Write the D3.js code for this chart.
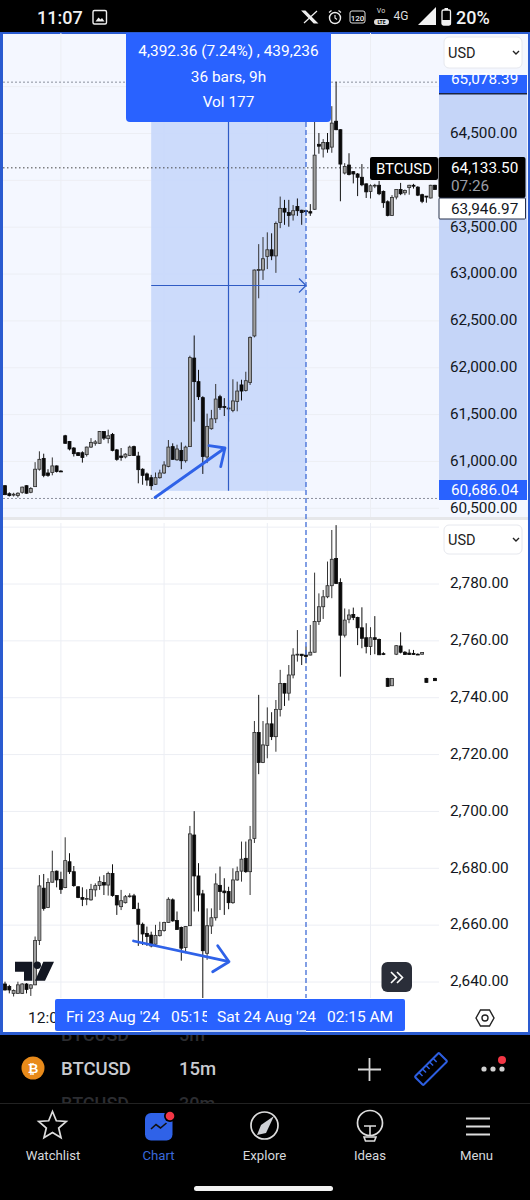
<!DOCTYPE html>
<html><head><meta charset="utf-8">
<script src="https://cdn.jsdelivr.net/npm/d3@7/dist/d3.min.js"></script>
<style>
html,body{margin:0;padding:0;background:#000;overflow:hidden}
svg{display:block}
text{font-family:Roboto,sans-serif}
</style></head><body><div id="chart"></div>
<script>
// ---------- data, [open, high, low, close] ----------
const btcCandlesRaw = [
[60740,60745,60640,60645],[60655,60670,60625,60635],[60640,60665,60625,60650],[60635,60670,60615,60660],
[60670,60730,60655,60725],[60740,60745,60655,60660],[60670,60725,60660,60710],[60730,60990,60730,60915],
[60915,61105,60900,61020],[61030,61080,60830,60850],[60875,60915,60835,60850],[60880,61040,60850,60950],
[60950,60955,60880,60890],[60895,60905,60885,60890],[61270,61280,61185,61190],[61210,61215,61115,61130],
[61140,61150,61050,61080],[61090,61095,61055,61060],[61090,61105,60985,61040],[61070,61155,61050,61150],
[61150,61245,61140,61200],[61190,61225,61165,61205],[61190,61320,61185,61315],[61315,61320,61225,61245],
[61240,61335,61190,61270],[61285,61300,61105,61115],[61120,61130,61005,61020],[61055,61140,61005,61040],
[61045,61085,61030,61075],[61060,61165,61055,61150],[61155,61165,61055,61060],[61055,61100,60765,60910],
[60915,60925,60750,60850],[60865,60880,60740,60800],[60825,60855,60695,60740],[60755,60880,60750,60825],
[60825,60910,60815,60875],[60875,61000,60865,60960],[60945,61225,60935,61150],[61155,61190,61015,61020],
[61015,61175,61005,61130],[61115,61200,60915,61005],[61005,61165,60985,61150],[61155,62120,61155,62100],
[62095,62335,61420,61845],[61845,61970,61650,61685],[61675,61690,60865,61050],[61045,61505,60980,61370],
[61345,61545,61335,61450],[61450,61820,61405,61660],[61685,61705,61545,61570],[61580,61670,61480,61570],
[61555,61650,61420,61565],[61540,61870,61520,61640],[61635,61845,61530,61745],[61810,61865,61645,61745],
[61750,61950,61740,61855],[61835,62325,61810,62315],[62330,63035,62315,63030],[63025,63305,62730,63035],
[63030,63380,62925,63150],[63175,63430,63040,63245],[63245,63420,63135,63180],[63180,63545,63000,63525],
[63535,63810,63475,63685],[63685,63775,63510,63645],[63640,63775,63490,63610],[63615,63720,63555,63660],
[63705,63790,63605,63660],[63665,63670,63510,63640],[63660,63670,63605,63650],[63650,63730,63605,63635],
[63675,64610,63670,64250],[64365,64485,64265,64345],[64315,64420,64225,64385],[64385,64485,64275,64315],
[64335,64770,64275,64590],[64610,65030,64515,64520],[64520,64525,63760,64155],[64060,64165,64045,64130],
[64145,64270,64035,64045],[64075,64080,63950,64050],[64050,64060,63815,64015],[64015,64155,63920,63935],
[63945,63950,63795,63860],[63865,63940,63790,63925],[63925,63945,63900,63930],[63930,63975,63825,63840],
[63865,63875,63690,63745],[63755,63770,63600,63610],[63610,63825,63605,63800],[63805,63885,63780,63885],
[63885,63955,63825,63840],[63850,63885,63825,63875],[63905,63935,63830,63930],[63930,63945,63895,63920],
[63910,63920,63815,63825],[63830,63840,63740,63760],[63815,63815,63745,63805],[63795,63935,63790,63930],
[63930,63935,63885,63885]];

const lowerCandles = [
[2639.3,2640.1,2637,2637.2],[2638.4,2639,2636,2637.2],[2636,2637.4,2634.9,2637],[2636,2640.1,2636,2639],
[2636,2639.6,2635.8,2639.3],[2639.3,2639.6,2636,2637.4],[2637.8,2639.2,2635.1,2639],[2639,2656,2638.9,2654.6],
[2654.6,2677.6,2653,2673.8],[2673,2678,2665.1,2665.9],[2666.2,2676.5,2666,2675],[2675.1,2686.2,2675,2678.8],
[2679,2679.2,2673.3,2675.9],[2676.1,2678.8,2671,2672.6],[2673.2,2690.9,2673,2682.7],[2682.3,2685.3,2678,2678.8],
[2678.8,2680.8,2673.5,2673.9],[2673.5,2673.6,2669.5,2669.7],[2669.7,2673.3,2666.7,2669.1],[2669.1,2672.6,2667,2669.4],
[2668.9,2674.5,2668.6,2672.6],[2672.4,2674.7,2670,2673.9],[2673.9,2677.1,2672.4,2675.3],[2675,2677.6,2670.6,2674.1],
[2674.1,2678.8,2670.4,2678.2],[2678.2,2681.4,2670,2670.4],[2670.4,2670.6,2663.6,2667.1],[2666.5,2672.4,2665.3,2668.6],
[2667.9,2670.6,2667.6,2670],[2670,2671.2,2669.7,2670.3],[2670.3,2671,2665.7,2665.8],[2665.6,2667.9,2652.7,2660.3],
[2660.3,2660.9,2653,2656.9],[2657.1,2659.5,2652.7,2656],[2656.5,2657.7,2652.2,2652.7],[2653.3,2660.1,2653,2656.4],
[2656.3,2661.2,2656,2658.1],[2658.1,2661.2,2657.7,2660.9],[2660.9,2669.8,2660.8,2669.1],[2668.9,2669.4,2661.2,2661.5],
[2661.6,2664.8,2658.3,2658.5],[2659.2,2659.5,2647.5,2651.9],[2652.1,2659.7,2650.1,2659.5],[2659.8,2694.9,2659.7,2692.1],
[2691.7,2700.1,2664.8,2677.3],[2677.3,2681.8,2664.8,2670.6],[2671,2672.4,2632,2651],[2650.1,2665.9,2647.8,2659.8],
[2659.7,2665.9,2656.9,2662.6],[2662.6,2678.2,2661.6,2674.5],[2674,2680.6,2665.3,2671.8],[2672,2676.5,2663.6,2671.4],
[2671.8,2673.5,2665.6,2667.9],[2667.9,2680,2667.5,2675.9],[2675.9,2680.6,2675.6,2678.8],[2679,2689.4,2675.3,2683.2],
[2683.5,2689.4,2678.4,2678.8],[2678.8,2694.9,2670.6,2690],[2690.5,2731.8,2688.9,2727.8],[2727.8,2741,2713.1,2717.2],
[2717.2,2731.8,2717,2723.4],[2723.2,2736.6,2718.7,2730.8],[2730.8,2734.9,2725.1,2726.3],[2726.3,2739.2,2721,2735.9],
[2735.9,2749.8,2733.4,2745],[2745,2745.2,2737.1,2741.6],[2741.6,2751.5,2739,2748],[2748,2757.4,2746.8,2755],
[2755,2763.8,2752.7,2755.3],[2755.3,2755.4,2751.5,2754.8],[2755,2758,2752.1,2754.5],[2755,2765.6,2754.9,2756],
[2756,2784,2755.9,2766.8],[2766.8,2776.7,2765.6,2772],[2772,2777.9,2767.7,2775.5],[2775.5,2787.9,2775,2779.4],
[2779.4,2799,2775,2788.7],[2789,2800.7,2780,2780.2],[2780.5,2782,2747.4,2762],[2762,2771.4,2761.2,2767.3],
[2767.6,2771.1,2766.2,2769.1],[2769.3,2771.7,2767.3,2768.2],[2768.2,2768.5,2758.5,2764.6],[2764.6,2771.8,2757.4,2760.9],
[2761.1,2766.2,2755.6,2758],[2758,2764.8,2755,2761.1],[2761.1,2768.7,2755.3,2760.5],[2760.5,2760.8,2755,2755.1],
[2755.5,2756,2755,2755.2],[2746.8,2747,2743.9,2744],[2744.2,2746.8,2744.2,2746.8],[2755.3,2758.5,2755,2758.3],
[2758.2,2763,2755.6,2756],[2756,2756.4,2755.1,2755.2],[2755.7,2757,2755.1,2755.2],[2755.6,2756.8,2755.1,2755.2],
[2755.3,2755.6,2755.1,2755.1],[2755.3,2756,2755.2,2755.9],[2746.8,2747,2745.3,2745.4],null,
[2746.8,2747,2745.9,2746]];

const topTicks = [60500,61000,61500,62000,62500,63000,63500,64000,64500,65000];
const topLabelTicks = [60500,61000,61500,62000,62500,63000,63500,64500];
const lowerTicks = [2640,2660,2680,2700,2720,2740,2760,2780,2800];
const lowerLabelTicks = [2640,2660,2680,2700,2720,2740,2760,2780];
const rangeHigh = 65078.39, rangeLow = 60686.04;
const lastPrice = 64133.50, markPrice = 63946.97;
const hiLoLevels = [65048, 60605];
const rangeBars = [34, 70];       // measured bars (36 bars)
const crossBar = 52.0;
const gridBars = [13.0, 37.0, 61.0, 85.0];
const tooltipLines = ["4,392.36 (7.24%) , 439,236","36 bars, 9h","Vol 177"];

// readings were taken against a slightly tighter grid; bring them onto the axis
const calibrate = p => 60500 + (p - 60500) * 1.0051;
const btcCandles = btcCandlesRaw.map(c => c.map(calibrate));

// ---------- scales ----------
const x = d3.scaleLinear().domain([0,100]).range([5,435]);
const yTop = d3.scaleLinear().domain([60500,64500]).range([508.3,133.5]);
const yLow = d3.scaleLinear().domain([2640,2780]).range([982,584]);

const svg = d3.select("#chart").append("svg").attr("width",530).attr("height",1200);
const defs = svg.append("defs");
defs.append("clipPath").attr("id","cTop").append("rect").attr("x",3).attr("y",33).attr("width",436).attr("height",484);
defs.append("clipPath").attr("id","cLow").append("rect").attr("x",3).attr("y",523).attr("width",436).attr("height",475);
defs.append("clipPath").attr("id","cBar").append("rect").attr("x",0).attr("y",1035).attr("width",530).attr("height",68);
defs.append("clipPath").attr("id","cT1").append("rect").attr("x",55).attr("y",999).attr("width",152).attr("height",32);

const NAVY="#131722", BLUE="#2962ff", PALE="#f4f7ff", SHADE="#c8d8fb", AXB="#c5d5f8", GRID="#eceef4", ACC="#2f62e8";

svg.append("rect").attr("width",530).attr("height",1200).attr("fill","#000");
// frame + panes
svg.append("rect").attr("x",0).attr("y",32).attr("width",530).attr("height",1003).attr("fill","#2a5bd0");
svg.append("rect").attr("x",3).attr("y",34).attr("width",525).attr("height",998).attr("fill","#fff");
svg.append("rect").attr("x",3).attr("y",34).attr("width",525).attr("height",483).attr("fill",PALE);
svg.append("rect").attr("x",3).attr("y",517).attr("width",525).attr("height",3).attr("fill","#e6e7ea");

function grid(g, yS, ticks, y0, y1){
  g.selectAll(".h").data(ticks).join("line").attr("x1",3).attr("x2",439)
    .attr("y1",d=>yS(d)).attr("y2",d=>yS(d)).attr("stroke",GRID).attr("stroke-width",1);
  g.selectAll(".v").data(gridBars).join("line").attr("x1",d=>x(d)).attr("x2",d=>x(d))
    .attr("y1",y0).attr("y2",y1).attr("stroke",GRID).attr("stroke-width",1);
}
const gTop = svg.append("g").attr("clip-path","url(#cTop)");
grid(gTop.append("g"),yTop,topTicks,33,517);
const gLow = svg.append("g").attr("clip-path","url(#cLow)");
grid(gLow.append("g"),yLow,lowerTicks,523,998);

// measured range
const rx0=x(rangeBars[0])+0, rx1=x(rangeBars[1])+0;
gTop.append("rect").attr("x",rx0).attr("y",yTop(rangeHigh)).attr("width",rx1-rx0)
  .attr("height",yTop(rangeLow)-yTop(rangeHigh)).attr("fill",SHADE).attr("opacity",.92);
// axis highlight
svg.append("rect").attr("x",439).attr("y",yTop(rangeHigh)).attr("width",88).attr("height",yTop(rangeLow)-yTop(rangeHigh)).attr("fill",AXB);

// hi/lo + last price lines
gTop.selectAll(".lv").data(hiLoLevels).join("line").attr("x1",3).attr("x2",439)
 .attr("y1",d=>yTop(d)).attr("y2",d=>yTop(d)).attr("stroke","#8a8f9c").attr("stroke-width",1).attr("stroke-dasharray","2,2");
gTop.append("line").attr("x1",3).attr("x2",439).attr("y1",yTop(lastPrice)).attr("y2",yTop(lastPrice))
 .attr("stroke","#444").attr("stroke-width",1).attr("stroke-dasharray","1.5,2.5");

// candles
function candles(g,data,y){
  const w=3;
  const c=g.selectAll(".c").data(data.map((d,i)=>d?{i,o:d[0],h:d[1],l:d[2],c:d[3]}:null).filter(Boolean)).join("g");
  c.append("line").attr("x1",d=>x(d.i)).attr("x2",d=>x(d.i)).attr("y1",d=>y(d.h)).attr("y2",d=>y(d.l))
    .attr("stroke",d=>d.c>=d.o?"#333":"#111").attr("stroke-width",1);
  c.append("rect").attr("x",d=>x(d.i)-w/2).attr("width",w)
    .attr("y",d=>Math.min(y(d.o),y(d.c))).attr("height",d=>Math.max(.8,Math.abs(y(d.o)-y(d.c))))
    .attr("fill",d=>d.c>=d.o?"#a0a0a0":"#0a0a0a").attr("stroke",d=>d.c>=d.o?"#2c2c2c":"#0a0a0a").attr("stroke-width",.8);
}
candles(gTop.append("g"),btcCandles,yTop);
candles(gLow.append("g"),lowerCandles,yLow);

// range lines
const mx=Math.round(x(crossBar))-0.5, my=Math.round((yTop(rangeHigh)+yTop(rangeLow))/2)+0.5;
const RL="#2f5bc4";
gTop.append("line").attr("x1",mx).attr("x2",mx).attr("y1",yTop(rangeHigh)).attr("y2",yTop(rangeLow)).attr("stroke",RL).attr("stroke-width",1.2);
gTop.append("line").attr("x1",rx0).attr("x2",rx1).attr("y1",my).attr("y2",my).attr("stroke",RL).attr("stroke-width",1.2);
gTop.append("path").attr("d",`M${rx1-7},${my-7}L${rx1},${my}L${rx1-7},${my+7}`).attr("fill","none").attr("stroke",RL).attr("stroke-width",1.2);
// crosshair
svg.append("line").attr("x1",rx1).attr("x2",rx1).attr("y1",122).attr("y2",998).attr("stroke","#3f6cd6").attr("stroke-width",1.3).attr("stroke-dasharray","5,3");

// hand drawn arrows
const arrow=(d)=>svg.append("path").attr("d",d).attr("fill","none").attr("stroke",ACC).attr("stroke-width",2.8).attr("stroke-linecap","round").attr("stroke-linejoin","round");
arrow("M155,497.5L225,448M209,445.7L225,448L220.7,466.7");
arrow("M133.5,941L229,961.7M217.7,945.7L229,961.7L212.7,971.7");

// axes
function axis(sel,yS,ticks){
  sel.attr("transform","translate(439,0)").call(d3.axisRight(yS).tickValues(ticks).tickSize(0).tickPadding(11).tickFormat(d3.format(",.2f")));
  sel.select(".domain").remove();
  sel.selectAll("text").attr("font-family","Roboto").attr("font-size",15.3).attr("fill",NAVY).attr("dy",".25em");
}
axis(svg.append("g"),yTop,topLabelTicks);
axis(svg.append("g"),yLow,lowerLabelTicks);

// USD selects
function select(yy,h){
  svg.append("rect").attr("x",444).attr("y",yy).attr("width",78).attr("height",h).attr("rx",5).attr("fill","#fff").attr("stroke","#e6e8ee");
  svg.append("text").attr("x",448).attr("y",yy+h/2+5).attr("font-size",14.5).attr("fill","#222").text("USD");
  svg.append("path").attr("d",`M513,${yy+h/2-1.5}l3,3l3,-3`).attr("fill","none").attr("stroke","#222").attr("stroke-width",1.4);
}
// high label
svg.append("rect").attr("x",439).attr("y",75).attr("width",88).attr("height",19).attr("fill",BLUE);
svg.append("rect").attr("x",439).attr("y",93).attr("width",88).attr("height",1.5).attr("fill","#1b2440");
select(37,31); select(525,29);
const lab=(xx,yy,t,fill,size=15.3,anchor="start",w=400)=>svg.append("text").attr("x",xx).attr("y",yy).attr("font-size",size).attr("font-weight",w).attr("fill",fill).attr("text-anchor",anchor).text(t);
const fmt=d3.format(",.2f");
lab(451,84,fmt(rangeHigh),"#fff");
// low label
svg.append("rect").attr("x",439).attr("y",480).attr("width",88).attr("height",20).attr("fill",BLUE);
lab(451,495,fmt(rangeLow),"#fff");
// BTCUSD price labels
svg.append("rect").attr("x",370).attr("y",157).attr("width",68).attr("height",23).attr("rx",2).attr("fill","#000");
lab(404,174,"BTCUSD","#fff",15,"middle");
svg.append("rect").attr("x",438.5).attr("y",157).attr("width",87).attr("height",41).attr("rx",2).attr("fill","#000");
lab(451,173,fmt(lastPrice),"#fff");
lab(451,191,"07:26","#9a9da6");
svg.append("rect").attr("x",439).attr("y",198).attr("width",86.5).attr("height",21).attr("rx",1).attr("fill","#fff").attr("stroke","#27304a");
lab(451,213.5,fmt(markPrice),NAVY);

// tooltip
svg.append("path").attr("d","M126,33H331V118a4,4 0 0 1 -4,4H130a4,4 0 0 1 -4,-4Z").attr("fill",BLUE);
tooltipLines.forEach((t,i)=>lab(228.5,[56,81.5,107][i],t,"#fff",15.4,"middle"));

// TradingView logo
svg.append("path").attr("d","M15,961.7H32.3V980.7H24V971.7H15Z M43.3,961.7H54L45,980.7H35Z").attr("fill",NAVY);
svg.append("circle").attr("cx",37.3).attr("cy",965.2).attr("r",3.7).attr("fill",NAVY);

// >> button
svg.append("rect").attr("x",381.5).attr("y",962).attr("width",30.5).attr("height",30).attr("rx",6).attr("fill","#2a2e39");
svg.append("path").attr("d","M391,972l5.5,5.5l-5.5,5.5M397,972l5.5,5.5l-5.5,5.5").attr("fill","none").attr("stroke","#fff").attr("stroke-width",1.6);

// time axis
lab(28,1023,"12:00",NAVY,15.5);
svg.append("rect").attr("x",55).attr("y",999).attr("width",350).attr("height",32).attr("rx",2).attr("fill",BLUE);
svg.append("rect").attr("x",151).attr("y",1030).attr("width",155).attr("height",2).attr("fill","#bcd0f7");
lab(66,1022,"Fri 23 Aug '24","#fff",15.5);
svg.append("g").attr("clip-path","url(#cT1)").append("text").attr("x",171).attr("y",1022).attr("font-size",15.5).attr("fill","#fff").text("05:15");
lab(217,1022,"Sat 24 Aug '24","#fff",15.5);
lab(327,1022,"02:15 AM","#fff",15.5);
// settings hexagon
svg.append("path").attr("d","M476,1018l4.5,-8h9l4.5,8l-4.5,8h-9Z").attr("fill","none").attr("stroke","#222").attr("stroke-width",1.4);
svg.append("circle").attr("cx",485).attr("cy",1018).attr("r",3).attr("fill","none").attr("stroke","#222").attr("stroke-width",1.4);

// status bar
lab(37,23.5,"11:07","#f0f0f0",18,"start",500);
svg.append("rect").attr("x",93).attr("y",10.5).attr("width",13.5).attr("height",13.5).attr("rx",1.5).attr("fill","none").attr("stroke","#eee").attr("stroke-width",1.4);
svg.append("path").attr("d","M95.5,21.5l3,-4l2,2l1.5,-1.5l2.5,3.5Z").attr("fill","#eee");
svg.append("path").attr("d","M305,11L317,23H314L302.5,11ZM317,11L304,23").attr("fill","#eee").attr("stroke","#eee").attr("stroke-width",1.2);
svg.append("circle").attr("cx",335).attr("cy",18).attr("r",5.5).attr("fill","none").attr("stroke","#eee").attr("stroke-width",1.4);
svg.append("path").attr("d","M335,15v3l2,1.5M329,12.5l2.5,-2M341,12.5l-2.5,-2").attr("fill","none").attr("stroke","#eee").attr("stroke-width",1.1);
svg.append("rect").attr("x",350).attr("y",11).attr("width",15).attr("height",12).attr("rx",2).attr("fill","none").attr("stroke","#ddd");
lab(357.5,20.5,"120","#eee",8,"middle",500);
lab(381,13,"Vo","#ddd",7,"middle");
svg.append("rect").attr("x",374).attr("y",19).attr("width",15).attr("height",6).attr("rx",3).attr("fill","#ddd");
lab(381.5,24,"LTE","#000",5,"middle",700);
lab(401,20,"4G","#ddd",12,"middle");
svg.append("path").attr("d","M418,25L436,7V25Z").attr("fill","#f2f2f2");
svg.append("rect").attr("x",442).attr("y",10).attr("width",8.5).attr("height",15).attr("rx",1.5).attr("fill","none").attr("stroke","#f2f2f2").attr("stroke-width",1.3);
svg.append("rect").attr("x",444.5).attr("y",8).attr("width",3.5).attr("height",2).attr("fill","#f2f2f2");
svg.append("rect").attr("x",442).attr("y",20).attr("width",8.5).attr("height",5).attr("fill","#f2f2f2");
lab(456,24,"20%","#f2f2f2",18,"start",500);

// symbol bar
const bar=svg.append("g").attr("clip-path","url(#cBar)");
bar.append("text").attr("x",61).attr("y",1041).attr("font-size",18).attr("font-weight",500).attr("fill","#2c2d31").text("BTCUSD");
bar.append("text").attr("x",179).attr("y",1041).attr("font-size",18).attr("font-weight",500).attr("fill","#2c2d31").text("5m");
bar.append("text").attr("x",61).attr("y",1110).attr("font-size",18).attr("font-weight",500).attr("fill","#2c2d31").text("BTCUSD");
bar.append("text").attr("x",179).attr("y",1110).attr("font-size",18).attr("font-weight",500).attr("fill","#2c2d31").text("30m");
svg.append("circle").attr("cx",33).attr("cy",1068).attr("r",11.5).attr("fill","#e88a1a");
lab(33,1073,"₿","#fff",13,"middle",700).attr("font-family","DejaVu Sans");
lab(61,1074.5,"BTCUSD","#c9cbd0",18.5,"start",500);
lab(179,1074.5,"15m","#c9cbd0",18.5,"start",500);
svg.append("path").attr("d","M358,1069.5H381M369.5,1058V1081").attr("stroke","#d8d8d8").attr("stroke-width",1.8);
const ruler=svg.append("g").attr("transform","translate(431,1069) rotate(-45)");
ruler.append("rect").attr("x",-17).attr("y",-6).attr("width",34).attr("height",12).attr("rx",1).attr("fill","none").attr("stroke","#2d5ee0").attr("stroke-width",2);
ruler.append("path").attr("d","M-11,-6v5M-6,-6v5M-1,-6v5M4,-6v5M9,-6v5").attr("stroke","#2d5ee0").attr("stroke-width",1.5);
[484,493,502].forEach(cx=>svg.append("circle").attr("cx",cx).attr("cy",1069).attr("r",2.6).attr("fill","#d0d0d0"));
svg.append("circle").attr("cx",502).attr("cy",1060).attr("r",4).attr("fill","#f23645");
svg.append("line").attr("x1",0).attr("x2",530).attr("y1",1103.5).attr("y2",1103.5).attr("stroke","#222");

// nav
const navLabels=["Watchlist","Chart","Explore","Ideas","Menu"];
const navX=[53,158.5,264.5,370,476.5];
navLabels.forEach((t,i)=>lab(navX[i],1159.5,t,i==1?"#3a68dc":"#d6d8dc",13.2,"middle",400));
const star=d3.range(10).map(i=>{const r=i%2?6.5:14.5,a=-Math.PI/2+i*Math.PI/5;return [52.5+r*Math.cos(a),1126+r*Math.sin(a)].join(",")}).join("L");
svg.append("path").attr("d","M"+star+"Z").attr("fill","none").attr("stroke","#ddd").attr("stroke-width",1.7);
svg.append("rect").attr("x",145).attr("y",1113).attr("width",27.5).attr("height",27.5).attr("rx",6).attr("fill",ACC);
svg.append("path").attr("d","M151,1129l5,-4.5l4.5,3.5l6,-5").attr("fill","none").attr("stroke","#111").attr("stroke-width",1.6);
svg.append("circle").attr("cx",170).attr("cy",1116).attr("r",6).attr("fill","#000");
svg.append("circle").attr("cx",170).attr("cy",1116).attr("r",4.3).attr("fill","#f23645");
svg.append("circle").attr("cx",264.5).attr("cy",1125.5).attr("r",13.5).attr("fill","none").attr("stroke","#ddd").attr("stroke-width",1.7);
svg.append("path").attr("d","M274,1116L266,1133L257,1135L261,1125Z").attr("fill","#cfd1d6");
svg.append("circle").attr("cx",370).attr("cy",1123).attr("r",12.5).attr("fill","none").attr("stroke","#ddd").attr("stroke-width",1.7);
svg.append("path").attr("d","M364,1126H376M370,1126V1135M364,1137H376L374.5,1141H365.5Z").attr("fill","none").attr("stroke","#ddd").attr("stroke-width",1.6);
svg.append("path").attr("d","M466,1118.5H490M466,1126.5H490M466,1134.5H490").attr("stroke","#ddd").attr("stroke-width",2.2);
svg.append("rect").attr("x",194).attr("y",1186).attr("width",139).attr("height",5).attr("rx",2.5).attr("fill","#f2f2f2");
</script></body></html>
